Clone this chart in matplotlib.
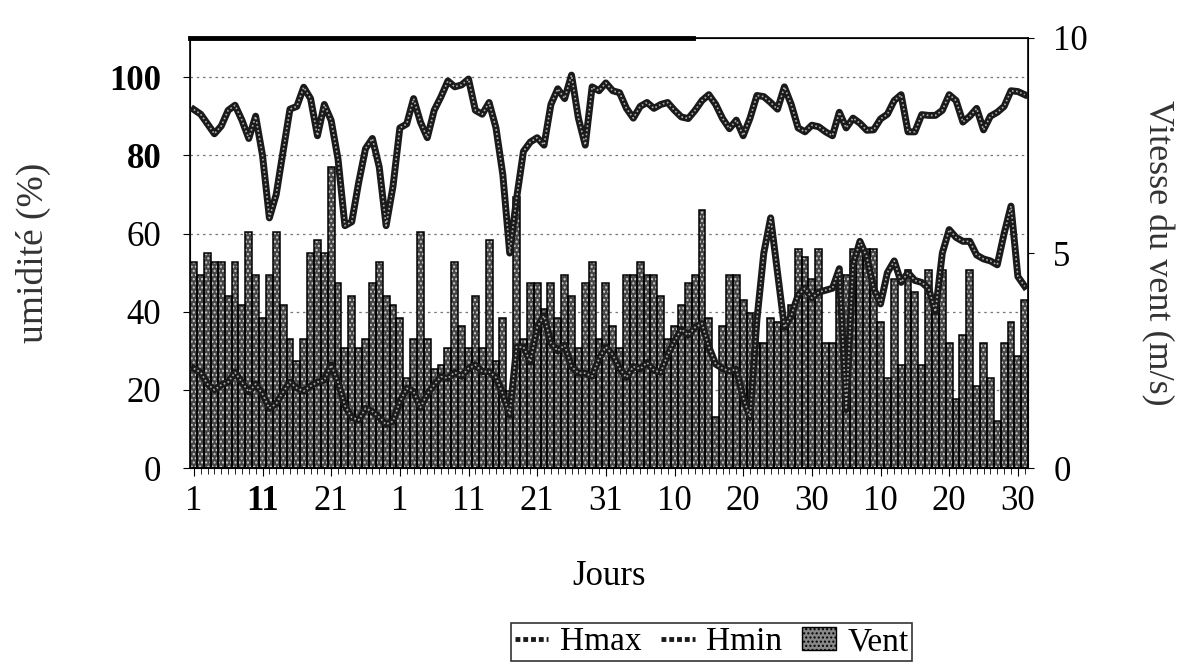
import numpy as np
import matplotlib
matplotlib.use("Agg")
import matplotlib.pyplot as plt
from matplotlib.transforms import blended_transform_factory
from matplotlib.lines import Line2D
from matplotlib.patches import Patch

plt.rcParams['font.family'] = ['Liberation Serif', 'DejaVu Serif']
plt.rcParams['hatch.linewidth'] = 1.0

# daily values over 122 days
hmax = [91.7, 90.5, 88, 85.5, 87.5, 91.5, 92.8, 89, 84.3, 90,
        80, 64, 70, 81, 91.8, 92.5, 97.4, 94.5, 85, 93,
        88.9, 79, 62, 63, 73, 81.7, 84.3, 77, 62, 72,
        87, 88, 94.5, 88.5, 84.5, 91.5, 95, 99, 97.5, 98,
        99.5, 91.5, 90.5, 93.5, 87, 75, 55, 69, 81, 83.4,
        84.5, 82.6, 93, 97, 94.5, 100.5, 89.5, 82.6, 97.5, 96.5,
        98.5, 96.5, 96, 92, 89.5, 92.5, 93.5, 92, 93, 93.5,
        91.5, 89.8, 89.4, 91.5, 94, 95.5, 93, 89.4, 86.8, 89,
        85, 89.5, 95.3, 95, 93.5, 91.8, 97.5, 93, 87, 86,
        87.7, 87.3, 86, 85, 91, 87, 89.5, 88.2, 86.4, 86.5,
        89.3, 90.5, 94, 95.5, 86, 86, 90.4, 90.2, 90.2, 91.5,
        95.5, 94, 88.5, 90, 92, 86.5, 90, 91, 92.5, 96.5,
        96.3, 95.5]

hmin = [25.5, 24.5, 21.5, 20, 21.3, 22, 24.5, 22, 19.5, 21.5,
        19, 15.3, 16.5, 19.5, 22, 20.5, 19.7, 21, 22, 22.5,
        26.4, 22, 16, 13, 12.3, 15.3, 14.5, 13, 11.2, 12,
        17, 20.4, 19.6, 15.5, 19, 21.3, 23.4, 23, 24.5, 23.5,
        25.5, 26.4, 24.7, 24.7, 23.2, 19, 13.6, 31, 31, 27.2,
        36, 39, 32, 30, 31.5, 26, 24.3, 24.3, 23.5, 28,
        31, 29, 25.5, 23.2, 26, 25.4, 27, 25, 24.5, 29,
        32.5, 35.5, 34, 36, 37, 31, 26.6, 25.5, 24.8, 25.3,
        18, 13, 38, 55, 64, 50, 36, 39, 44.3, 46,
        43.5, 45, 45.5, 46, 51, 15, 52, 58, 54, 46,
        42, 50, 53, 47.5, 50, 48, 47.5, 46, 40, 55,
        61, 59, 58, 58, 54.5, 53.5, 53, 52, 60, 67,
        49, 46.5]

vent = [4.8, 4.5, 5.0, 4.8, 4.8, 4.0, 4.8, 3.8, 5.5, 4.5,
        3.5, 4.5, 5.5, 3.8, 3.0, 2.5, 3.0, 5.0, 5.3, 5.0,
        7.0, 4.3, 2.8, 4.0, 2.8, 3.0, 4.3, 4.8, 4.0, 3.8,
        3.5, 2.1, 3.0, 5.5, 3.0, 2.3, 2.4, 2.8, 4.8, 3.3,
        2.8, 4.0, 2.8, 5.3, 2.5, 3.5, 1.8, 6.3, 3.0, 4.3,
        4.3, 3.7, 4.3, 3.5, 4.5, 4.0, 2.8, 4.3, 4.8, 3.0,
        4.3, 3.3, 2.8, 4.5, 4.5, 4.8, 4.5, 4.5, 4.0, 3.0,
        3.3, 3.8, 4.3, 4.5, 6.0, 3.5, 1.2, 3.3, 4.5, 4.5,
        3.9, 3.6, 2.9, 2.9, 3.5, 3.4, 3.5, 3.8, 5.1, 4.9,
        4.4, 5.1, 2.9, 2.9, 4.5, 4.5, 5.1, 5.1, 5.1, 5.1,
        3.4, 2.1, 4.4, 2.4, 4.6, 4.1, 2.4, 4.6, 3.9, 4.6,
        2.9, 1.6, 3.1, 4.6, 1.9, 2.9, 2.1, 1.1, 2.9, 3.4,
        2.6, 3.9]

day_labels = ['1', '11', '21', '1', '11', '21', '31', '10', '20', '30', '10', '20', '30']
hum_ticks = [0, 20, 40, 60, 80, 100]
vent_ticks = [0, 5, 10]

days = np.arange(len(hmax))

fig = plt.figure(figsize=(11.9, 6.66), dpi=100)
ax = fig.add_axes([0.16, 0.297, 0.704, 0.646])
ax2 = ax.twinx()
ax.set_zorder(ax2.get_zorder() + 1)
ax.patch.set_visible(False)

# bars (wind) on the right axis, behind the humidity lines
ax2.bar(days, vent, width=1.0, color='#454545', edgecolor='#d0d0d0',
        hatch='....', linewidth=0, zorder=1)
ax2.bar(days, vent, width=1.0, fill=False, edgecolor='black', linewidth=1.1, zorder=2)

# dotted grid of the humidity scale, drawn behind the bars
tr = blended_transform_factory(ax2.transAxes, ax.transData)
for t in hum_ticks[1:]:
    ax2.plot([0, 1], [t, t], transform=tr, color='#777777', lw=0.9,
             linestyle=(0, (2, 3)), zorder=0)

# humidity lines with a beaded look
for serie in (hmax, hmin):
    ax.plot(days, serie, color='#1a1a1a', lw=5, solid_joinstyle='round', zorder=3)
    ax.plot(days, serie, color='#b0b0b0', lw=1.2, linestyle=(0, (1, 1.5)), zorder=4)

ax.set_xlim(-0.5, len(days) - 0.5)
ax.set_ylim(0, 110)
ax2.set_ylim(0, 10)

ax.set_xticks(days[::10])
ax.set_xticklabels(day_labels)
ax.set_xticks(days, minor=True)
ax.tick_params(axis='x', which='major', length=6, labelsize=25, pad=6)
ax.tick_params(axis='x', which='minor', length=4)
ax.set_yticks(hum_ticks)
ax.tick_params(axis='y', length=5, labelsize=25, pad=16)
for lab in ax.get_yticklabels():
    if lab.get_text() in ('80', '100'):
        lab.set_fontweight('bold')
ax.get_xticklabels()[1].set_fontweight('bold')

ax2.set_yticks(vent_ticks)
ax2.tick_params(axis='y', length=4, labelsize=25, pad=14)

for s in ax.spines.values():
    s.set_linewidth(1.2)
# the top frame is heavier on its left part
ax.plot([0, 0.6], [1, 1], transform=ax.transAxes, color='black', lw=3.5,
        clip_on=False, zorder=5)

ax.set_xlabel('Jours', fontsize=25, labelpad=30)
ax.set_ylabel('umidité (%)', fontsize=27, labelpad=42, color='#333333')
ax2.set_ylabel('Vitesse du vent (m/s)', fontsize=26, rotation=270, labelpad=62, color='#333333')

# legend handles: short beaded lines and a stippled square
line_h = Line2D([], [], color='#1a1a1a', lw=3.5, linestyle=(0, (1, 0.6)))
handles = [line_h, line_h,
           Patch(facecolor='#888888', edgecolor='black', hatch='....')]
leg = fig.legend(handles, ['Hmax', 'Hmin', 'Vent'], loc='upper center',
                 bbox_to_anchor=(0.598, 0.064), borderaxespad=0, ncol=3,
                 fontsize=24, frameon=True, fancybox=False, edgecolor='black',
                 handlelength=1.0, handletextpad=0.35, columnspacing=0.6,
                 borderpad=0.1)
leg.get_frame().set_linewidth(1.2)

fig.savefig('out.png', dpi=100)
